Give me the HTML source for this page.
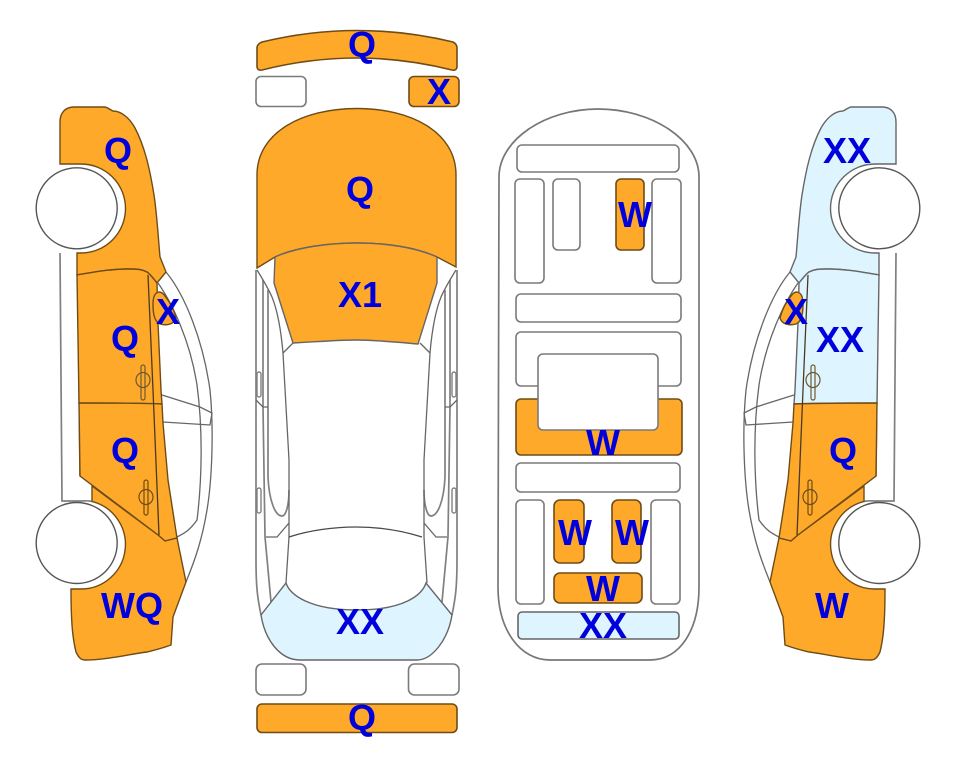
<!DOCTYPE html>
<html><head><meta charset="utf-8">
<style>
html,body{margin:0;padding:0;background:#fff}
svg{display:block}
.l{fill:none;stroke:#666;stroke-width:1.3}
.g{fill:none;stroke:#808080;stroke-width:1.7}
.w{fill:#fff;stroke:#555;stroke-width:1.4}
.o{fill:#ffa92b;stroke:#6e4c16;stroke-width:1.4}
.b{fill:#def5ff;stroke:#666;stroke-width:1.4}
.r{fill:#fff;stroke:#7a7a7a;stroke-width:1.6}
.ro{fill:#ffa92b;stroke:#6e4c16;stroke-width:1.6}
.rb{fill:#def5ff;stroke:#666;stroke-width:1.6}
text{font-family:"Liberation Sans",sans-serif;font-weight:bold;font-size:36px;fill:#0000dc;text-anchor:middle}
</style></head><body>
<svg width="963" height="768" viewBox="0 0 963 768" xmlns="http://www.w3.org/2000/svg">
<defs>
<path id="f1" d="M60 164 L60 122 C60 112 66 107 74 107 L104 107 C108 107 110 110 113 111 C122 111 130 119 135 128 C145 147 150 170 154 195 C157 215 158 235 160 257 L166 272 L157 283 C153 278 150 274 147 272 C141 269 137 269 128 269 C110 269 95 272 77 275 L77 253 H81 A44.5 44.5 0 0 0 81 164 Z"/>
<path id="d1" d="M77 275 C95 272 110 269 128 269 C137 269 141 269 147 272 C150 274 153 278 157 283 L158 323 L161 390 L162 404 C140 403 100 403 79 403 Z"/>
<path id="d2" d="M79 403 C100 403 140 403 162 404 L163 423 L168 480 L177 538 L165 541 L158 535 L80 476 Z"/>
<path id="f2" d="M92 486 L158 535 L165 541 L177 538 L186 582 L173 617 L171 645 C160 649 155 650 147 652 C125 655 105 660 85 660 C80 660 78 656 76 652 C73 640 71 625 71 589 H81 A44.5 44.5 0 0 0 92 501.4 Z"/>
<path id="m1" d="M159 292 C154 293 153 298 153 305 C153 315 155 322 160 324 C168 326 174 324 176 318 C174 310 170 302 165 296 C163 293 161 292 159 292 Z"/>
<g id="sideback">
<path class="l" d="M166 272 C185 295 203 340 210 390 C214 430 212 480 207 510 C202 540 195 560 186 582"/>
<path class="l" d="M158 283 C172 303 190 340 197 385 C203 430 202 480 197 520 C190 530 185 533 177 537"/>
<path class="l" d="M162 395 L200 407 L212 413 L210 425 L163 422"/>
<path class="g" d="M60 253 L62 501 H81 A44.5 44.5 0 0 1 92 501.4"/>
<path class="g" d="M78 275 L80 476"/>
</g>
<g id="sidefront">
<path class="l" style="stroke:#4a3a20" d="M148 275 L153 390 L159 535"/>
<rect x="141" y="365" width="4" height="35" rx="2" fill="none" stroke="#6e5a30" stroke-width="1.2"/>
<ellipse cx="143" cy="380" rx="7" ry="7.5" fill="none" stroke="#6e5a30" stroke-width="1.2"/>
<rect x="144" y="480" width="4" height="35" rx="2" fill="none" stroke="#6e4c16" stroke-width="1.2"/>
<ellipse cx="146" cy="497" rx="7" ry="7.5" fill="none" stroke="#6e4c16" stroke-width="1.2"/>
<circle class="w" cx="76.7" cy="208.3" r="40.5"/>
<circle class="w" cx="76.7" cy="543" r="40.5"/>
</g>
<g id="tophalf">
<path class="g" d="M256 270 V560 C256 590 258 600 261 615"/>
<path class="g" d="M263 280 V407 L265 537 L271 602"/>
<path class="g" d="M268 290 V477 C269 500 275 516 282 516 C286 516 289 505 289 490"/>
<path class="l" d="M257 270 C262 278 268 288 272 297 C278 312 281 330 283 353 L289 460 L289 537 L286 583"/>
<path class="l" d="M283 353 L293 343"/>
<path class="l" d="M256 400 L263 407 H268"/>
<path class="l" d="M266 537 H277 L289 523"/>
<rect x="257" y="372" width="4" height="25" rx="2" fill="#fff" stroke="#808080" stroke-width="1.4"/>
<rect x="257" y="488" width="4" height="25" rx="2" fill="#fff" stroke="#808080" stroke-width="1.4"/>
</g>
</defs>

<!-- left side car -->
<use href="#sideback"/>
<use href="#f1" class="o"/><use href="#d1" class="o"/><use href="#d2" class="o"/><use href="#f2" class="o"/><use href="#m1" class="o"/>
<use href="#sidefront"/>

<!-- right side car -->
<g transform="translate(956,0) scale(-1,1)">
<use href="#sideback"/>
<use href="#f1" class="b"/><use href="#d1" class="b"/><use href="#d2" class="o"/><use href="#f2" class="o"/><use href="#m1" class="o"/>
<use href="#sidefront"/>
</g>

<!-- top view car -->
<path class="ro" d="M262 42 Q357 19 453 42 Q457 44 457 48 V66 Q457 71 452 70 Q357 46 262 70 Q257 71 257 66 V48 Q257 44 262 42 Z"/>
<rect class="r" x="256" y="76.5" width="50" height="30" rx="5"/>
<rect class="ro" x="409" y="76.5" width="50" height="30" rx="5"/>
<use href="#tophalf"/>
<use href="#tophalf" transform="translate(713,0) scale(-1,1)"/>
<path class="o" d="M257 268 V175 C257 132 303 108.5 357 108.5 C411 108.5 456 132 456 175 V267 L437 257 C415 247 385 243 357 243 C330 243 297 247 275 257 Z"/>
<path class="o" style="stroke:#666" d="M275 257 C297 247 330 243 357 243 C385 243 415 247 437 257 V283 L418 344 C395 342 375 340 357 340 C335 340 315 342 293 343 L274 283 Z"/>
<path class="l" style="stroke:#4a4a4a" d="M289 537 C310 530 335 527 356 527 C380 527 400 530 422 537"/>
<path class="b" d="M261 615 L286 583 C290 595 310 610 357 610 C404 610 422 595 426 583 L452 615 C448 640 432 660 417 660 H300 C280 660 265 640 261 615 Z"/>
<rect class="r" x="256" y="664" width="50" height="31" rx="6"/>
<rect class="r" x="408.500" y="664" width="50.500" height="31" rx="6"/>
<rect class="ro" x="257" y="704" width="200" height="28.500" rx="5"/>

<!-- interior -->
<path class="g" style="stroke:#777" d="M499 177 C499 140 545 109 598 109 C652 109 699 140 699 177 V587 C699 630 680 660 650 660 H550 C520 660 498 630 498 587 Z"/>
<rect class="r" x="517" y="145" width="162" height="27" rx="5"/>
<rect class="r" x="515" y="179" width="29" height="104" rx="5"/>
<rect class="r" x="553" y="179" width="27" height="71" rx="5"/>
<rect class="ro" x="616" y="179" width="28" height="71" rx="5"/>
<rect class="r" x="652" y="179" width="29" height="104" rx="5"/>
<rect class="r" x="516" y="294" width="165" height="28" rx="5"/>
<rect class="r" x="516" y="332" width="165" height="54" rx="5"/>
<rect class="ro" x="516" y="399" width="166" height="56" rx="5"/>
<rect class="r" x="538" y="354" width="120" height="76" rx="5"/>
<rect class="r" x="516" y="463" width="164" height="29" rx="5"/>
<rect class="r" x="516" y="500" width="28" height="104" rx="5"/>
<rect class="ro" x="554" y="500" width="30" height="63" rx="6"/>
<rect class="ro" x="612" y="500" width="29" height="63" rx="6"/>
<rect class="r" x="651" y="500" width="29" height="104" rx="5"/>
<rect class="ro" x="554" y="573" width="88" height="30" rx="6"/>
<rect class="rb" x="518" y="612" width="161" height="27" rx="4"/>

<!-- labels -->
<text x="118" y="163">Q</text>
<text x="168" y="324">X</text>
<text x="125" y="351">Q</text>
<text x="125" y="463">Q</text>
<text x="132" y="618">WQ</text>
<text x="362" y="57">Q</text>
<text x="439" y="104">X</text>
<text x="360" y="202">Q</text>
<text x="360" y="307">X1</text>
<text x="360" y="634">XX</text>
<text x="362" y="730">Q</text>
<text x="635" y="227">W</text>
<text x="603" y="455">W</text>
<text x="575" y="545">W</text>
<text x="632" y="545">W</text>
<text x="603" y="601">W</text>
<text x="603" y="638">XX</text>
<text x="847" y="163">XX</text>
<text x="796" y="324">X</text>
<text x="840" y="352">XX</text>
<text x="843" y="463">Q</text>
<text x="832" y="618">W</text>
</svg>
</body></html>
